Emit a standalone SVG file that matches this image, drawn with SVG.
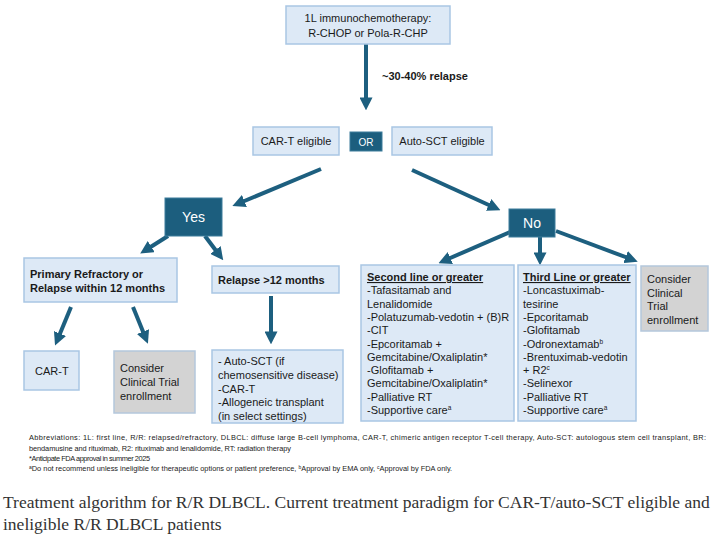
<svg xmlns="http://www.w3.org/2000/svg" width="720" height="536" viewBox="0 0 720 536">
<defs>
<marker id="ah" markerUnits="userSpaceOnUse" markerWidth="13" markerHeight="13" viewBox="0 0 10 10" refX="2" refY="5" orient="auto">
<path d="M0,0 L10,5 L0,10 z" fill="#1d5f7f"/>
</marker>
</defs>
<style>
.lb{fill:#dde9f6;stroke:#a9c6e4;stroke-width:1.5}
.dk{fill:#1c5e7e;stroke:#3d7c9b;stroke-width:1}
.gr{fill:#d3d3d3;stroke:#b4c7dc;stroke-width:1.5}
.t{font-family:"Liberation Sans",Arial,sans-serif;font-size:11px;fill:#1a1a1a}
.b{font-weight:bold}
.w{font-family:"Liberation Sans",Arial,sans-serif;fill:#ffffff}
.fn{font-family:"Liberation Sans",Arial,sans-serif;font-size:7.4px;fill:#1a1a1a}
.cap{font-family:"Liberation Serif","Times New Roman",serif;font-size:17.5px;fill:#333333}
.ar{stroke:#1d5f7f;stroke-width:4;fill:none;marker-end:url(#ah)}
</style>
<rect width="720" height="536" fill="#ffffff"/>

<g id="connectors">
<line class="ar" x1="366" y1="44" x2="366" y2="100"/>
<line class="ar" x1="321" y1="169" x2="242" y2="202"/>
<line class="ar" x1="412" y1="170" x2="491" y2="206"/>
<line class="ar" x1="168" y1="236" x2="149" y2="248"/>
<line class="ar" x1="205" y1="236" x2="217" y2="252"/>
<line class="ar" x1="71" y1="307" x2="59" y2="336"/>
<line class="ar" x1="133" y1="307" x2="144" y2="334"/>
<line class="ar" x1="271" y1="296" x2="271" y2="334"/>
<line class="ar" x1="510" y1="232" x2="448" y2="259"/>
<line class="ar" x1="540" y1="237" x2="540" y2="255"/>
<line class="ar" x1="556" y1="231" x2="628" y2="258"/>
</g>

<text class="t b" x="382" y="80" font-size="10.5">~30-40% relapse</text>

<g id="n-1l">
<rect class="lb" x="286" y="6" width="164" height="38"/>
<text class="t" x="368" y="22" text-anchor="middle" font-size="11.5">1L immunochemotherapy:</text>
<text class="t" x="368" y="37" text-anchor="middle" font-size="11.5">R-CHOP or Pola-R-CHP</text>
</g>

<g id="n-cart-elig">
<rect class="lb" x="253" y="127" width="86" height="28"/>
<text class="t" x="296" y="145" text-anchor="middle">CAR-T eligible</text>
</g>

<g id="n-or">
<rect class="dk" x="350" y="132" width="32" height="19"/>
<text class="w" x="366" y="145.5" text-anchor="middle" font-size="10">OR</text>
</g>

<g id="n-auto-elig">
<rect class="lb" x="392" y="127" width="100" height="28"/>
<text class="t" x="442" y="145" text-anchor="middle">Auto-SCT eligible</text>
</g>

<g id="n-yes">
<rect class="dk" x="165" y="198" width="57" height="38"/>
<text class="w" x="193.5" y="222" text-anchor="middle" font-size="14">Yes</text>
</g>

<g id="n-no">
<rect class="dk" x="509" y="209" width="46" height="28"/>
<text class="w" x="532" y="228" text-anchor="middle" font-size="14">No</text>
</g>

<g id="n-primary">
<rect class="lb" x="24" y="258" width="153" height="44"/>
<text class="t b" x="30" y="278">Primary Refractory or</text>
<text class="t b" x="30" y="292">Relapse within 12 months</text>
</g>

<g id="n-relapse12">
<rect class="lb" x="212" y="266" width="127" height="27"/>
<text class="t b" x="218" y="284">Relapse &gt;12 months</text>
</g>

<g id="n-cart">
<rect class="lb" x="24" y="351" width="55" height="39"/>
<text class="t" x="35" y="375">CAR-T</text>
</g>

<g id="n-trial-left">
<rect class="gr" x="114" y="351" width="81" height="62"/>
<text class="t" x="120" y="372">Consider</text>
<text class="t" x="120" y="386">Clinical Trial</text>
<text class="t" x="120" y="400">enrollment</text>
</g>

<g id="n-auto-opts">
<rect class="lb" x="212" y="350" width="131" height="73"/>
<text class="t" x="218" y="365">- Auto-SCT (if</text>
<text class="t" x="218" y="379">chemosensitive disease)</text>
<text class="t" x="218" y="393">-CAR-T</text>
<text class="t" x="218" y="406">-Allogeneic transplant</text>
<text class="t" x="218" y="420">(in select settings)</text>
</g>

<g id="n-second">
<rect class="lb" x="361" y="265" width="153" height="156"/>
<text class="t b" x="367" y="281" text-decoration="underline">Second line or greater</text>
<text class="t" x="367" y="294.3">-Tafasitamab and</text>
<text class="t" x="367" y="307.6">Lenalidomide</text>
<text class="t" x="367" y="320.9">-Polatuzumab-vedotin + (B)R</text>
<text class="t" x="367" y="334.2">-CIT</text>
<text class="t" x="367" y="347.5">-Epcoritamab +</text>
<text class="t" x="367" y="360.8">Gemcitabine/Oxaliplatin*</text>
<text class="t" x="367" y="374.1">-Glofitamab +</text>
<text class="t" x="367" y="387.4">Gemcitabine/Oxaliplatin*</text>
<text class="t" x="367" y="400.7">-Palliative RT</text>
<text class="t" x="367" y="414">-Supportive care<tspan font-size="6.5" dy="-4">a</tspan></text>
</g>

<g id="n-third">
<rect class="lb" x="518" y="265" width="118" height="156"/>
<text class="t b" x="523" y="281" text-decoration="underline">Third Line or greater</text>
<text class="t" x="523" y="294.3">-Loncastuximab-</text>
<text class="t" x="523" y="307.6">tesirine</text>
<text class="t" x="523" y="320.9">-Epcoritamab</text>
<text class="t" x="523" y="334.2">-Glofitamab</text>
<text class="t" x="523" y="347.5">-Odronextamab<tspan font-size="6.5" dy="-4">b</tspan></text>
<text class="t" x="523" y="360.8">-Brentuximab-vedotin</text>
<text class="t" x="523" y="374.1">+ R2<tspan font-size="6.5" dy="-4">c</tspan></text>
<text class="t" x="523" y="387.4">-Selinexor</text>
<text class="t" x="523" y="400.7">-Palliative RT</text>
<text class="t" x="523" y="414">-Supportive care<tspan font-size="6.5" dy="-4">a</tspan></text>
</g>

<g id="n-trial-right">
<rect class="gr" x="641" y="266" width="67" height="65"/>
<text class="t" x="647" y="283">Consider</text>
<text class="t" x="647" y="296.5">Clinical</text>
<text class="t" x="647" y="310">Trial</text>
<text class="t" x="647" y="323.5">enrollment</text>
</g>

<g id="footnotes">
<text class="fn" x="29" y="440" textLength="677" lengthAdjust="spacing">Abbreviations: 1L: first line, R/R: relapsed/refractory, DLBCL: diffuse large B-cell lymphoma, CAR-T, chimeric antigen receptor T-cell therapy, Auto-SCT: autologous stem cell transplant, BR:</text>
<text class="fn" x="29" y="451" textLength="262" lengthAdjust="spacing">bendamusine and rituximab, R2: rituximab and lenalidomide, RT: radiation therapy</text>
<text class="fn" x="29" y="461" textLength="121" lengthAdjust="spacing">*Anticipate FDA approval in summer 2025</text>
<text class="fn" x="29" y="471"><tspan font-size="5" dy="-2">a</tspan><tspan dy="2">Do not recommend unless ineligible for therapeutic options or patient preference, </tspan><tspan font-size="5" dy="-2">b</tspan><tspan dy="2">Approval by EMA only, </tspan><tspan font-size="5" dy="-2">c</tspan><tspan dy="2">Approval by FDA only.</tspan></text>
</g>

<text class="cap" x="3" y="508">Treatment algorithm for R/R DLBCL. Current treatment paradigm for CAR-T/auto-SCT eligible and</text>
<text class="cap" x="3" y="530">ineligible R/R DLBCL patients</text>
</svg>
